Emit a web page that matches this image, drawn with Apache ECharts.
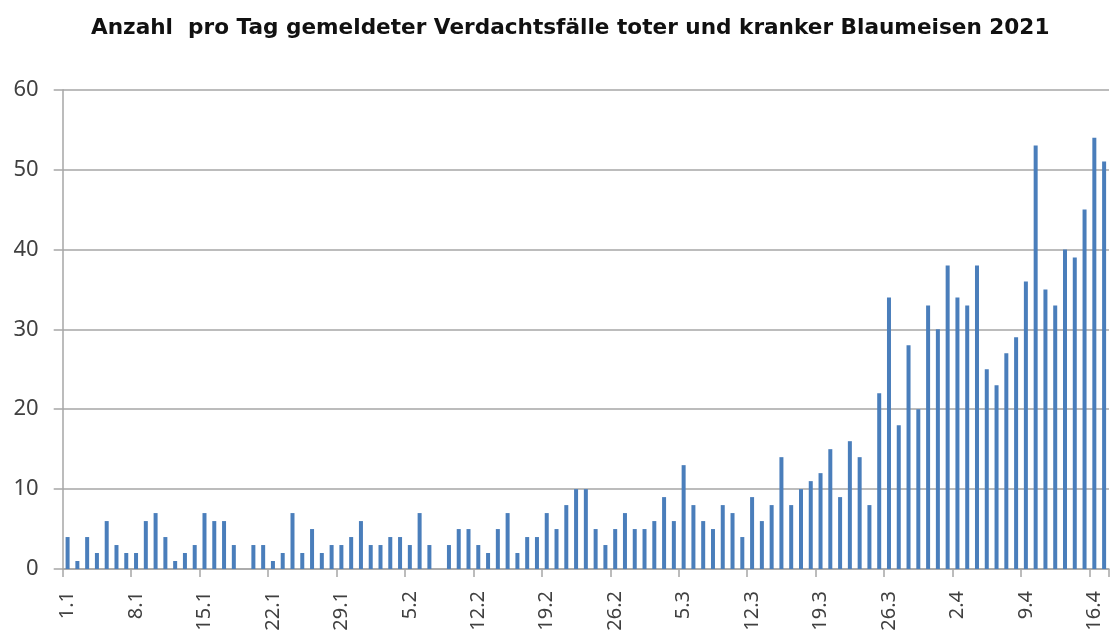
<!DOCTYPE html>
<html>
<head>
<meta charset="utf-8">
<script src="https://cdn.jsdelivr.net/npm/echarts@6/dist/echarts.min.js"></script>
<style>html,body{margin:0;padding:0;background:#fff;}#c{width:1110px;height:641px;}</style>
</head>
<body>
<div id="c"></div>
<script>
const titleText = 'Anzahl  pro Tag gemeldeter Verdachtsfälle toter und kranker Blaumeisen 2021';

const days = [
'1.1','2.1','3.1','4.1','5.1','6.1','7.1','8.1','9.1','10.1','11.1','12.1','13.1','14.1','15.1','16.1','17.1','18.1','19.1','20.1','21.1','22.1','23.1','24.1','25.1','26.1','27.1','28.1','29.1','30.1','31.1',
'1.2','2.2','3.2','4.2','5.2','6.2','7.2','8.2','9.2','10.2','11.2','12.2','13.2','14.2','15.2','16.2','17.2','18.2','19.2','20.2','21.2','22.2','23.2','24.2','25.2','26.2','27.2','28.2',
'1.3','2.3','3.3','4.3','5.3','6.3','7.3','8.3','9.3','10.3','11.3','12.3','13.3','14.3','15.3','16.3','17.3','18.3','19.3','20.3','21.3','22.3','23.3','24.3','25.3','26.3','27.3','28.3','29.3','30.3','31.3',
'1.4','2.4','3.4','4.4','5.4','6.4','7.4','8.4','9.4','10.4','11.4','12.4','13.4','14.4','15.4','16.4','17.4'
];

const cases = [
4,1,4,2,6,3,2,2,6,7,4,1,2,3,7,6,6,3,0,3,3,1,2,7,2,5,2,3,3,4,6,
3,3,4,4,3,7,3,0,3,5,5,3,2,5,7,2,4,4,7,5,8,10,10,5,3,5,7,5,
5,6,9,6,13,8,6,5,8,7,4,9,6,8,14,8,10,11,12,15,9,16,14,8,22,34,18,28,20,33,30,
38,34,33,38,25,23,27,29,36,53,35,33,40,39,45,54,51
];

const yMin = 0, yMax = 60, yStep = 10;
const labelEvery = 7;

const chart = echarts.init(document.getElementById('c'), null, {renderer: 'canvas'});
const axisGray = '#a6a6a6';
const textGray = '#404040';
const fontFam = '"Noto Sans", "Open Sans", sans-serif';

chart.setOption({
  animation: false,
  backgroundColor: '#ffffff',
  title: {
    text: titleText,
    left: 86,
    top: 12,
    textStyle: {fontFamily: '"DejaVu Sans", sans-serif', fontWeight: 'bold', fontSize: 21.6, color: '#111111'}
  },
  grid: {left: 62.7, right: 1, top: 89.7, bottom: 72},
  xAxis: {
    type: 'category',
    data: days,
    boundaryGap: true,
    axisLine: {show: true, lineStyle: {color: axisGray, width: 1.5}},
    axisTick: {show: true, interval: function(i){return i % labelEvery === 0;}, length: 8, lineStyle: {color: axisGray, width: 1.5}, alignWithLabel: false},
    axisLabel: {
      interval: function(i){return i % labelEvery === 0;},
      rotate: 90,
      margin: 22,
      fontFamily: fontFam,
      fontSize: 20,
      color: textGray
    },
    splitLine: {show: false}
  },
  yAxis: {
    type: 'value',
    min: yMin, max: yMax, interval: yStep,
    axisLine: {show: true, lineStyle: {color: axisGray, width: 1.5}},
    axisTick: {show: true, length: 9, lineStyle: {color: axisGray, width: 1.5}},
    axisLabel: {margin: 24, fontFamily: fontFam, fontSize: 22, color: textGray},
    splitLine: {show: true, lineStyle: {color: axisGray, width: 1.5}}
  },
  series: [{
    type: 'bar',
    data: cases,
    barWidth: 4,
    itemStyle: {color: '#4a7ebb'}
  }]
});
</script>
</body>
</html>
